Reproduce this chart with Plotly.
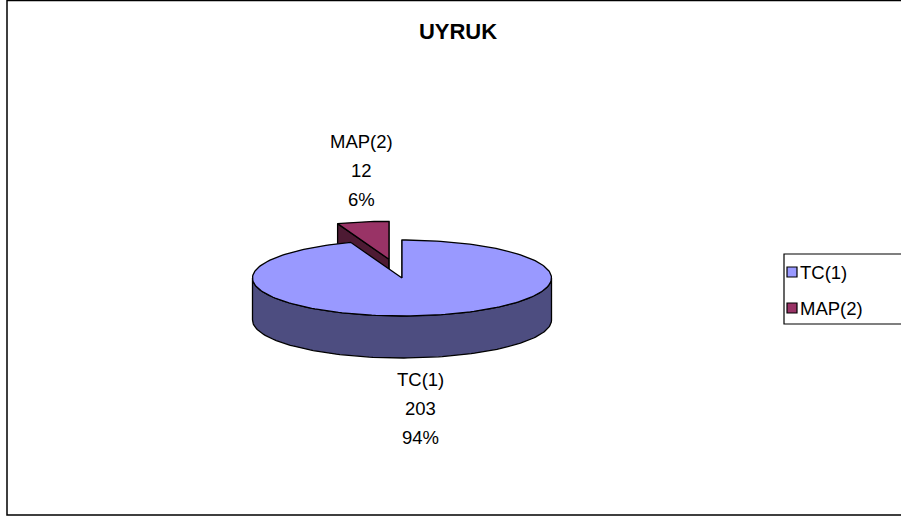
import numpy as np
import plotly.graph_objects as go

# ---- data ----
title_text = "UYRUK"
categories = ["TC(1)", "MAP(2)"]
values = [203, 12]
explode = [0.0, 0.5]
top_colors = ["#9999FF", "#993366"]
side_colors = ["#4D4D80", "#4D1A33"]

# ---- layout constants (pixel space) ----
W, H = 901, 518
CX, CY = 402.0, 278.0     # pie centre
RX, RY = 149.5, 38.0      # ellipse radii of the top face
DEPTH = 42.0              # thickness of the 3-D pie
LINE = dict(color="black", width=1.3)
FONT = "Liberation Sans, Arial, sans-serif"

total = float(sum(values))
shares = [v / total for v in values]


def pt(cx, cy, theta_deg, r=1.0):
    t = np.radians(theta_deg)
    return cx + r * RX * np.sin(t), cy - r * RY * np.cos(t)


def arc(cx, cy, a0, a1, dy=0.0, n=None):
    if n is None:
        n = max(4, int(abs(a1 - a0) / 1.5) + 2)
    th = np.linspace(a0, a1, n)
    xs, ys = pt(cx, cy, th)
    return list(xs), list(np.asarray(ys) + dy)


slices = []
start = 0.0
for i, s in enumerate(shares):
    end = start + 360.0 * s
    mid = (start + end) / 2.0
    ox, oy = pt(0.0, 0.0, mid, explode[i])
    slices.append(dict(i=i, a0=start, a1=end, cx=CX + ox, cy=CY + oy))
    start = end

cut_traces, side_traces, top_traces = [], [], []

for sl in slices:
    i, a0, a1, cx, cy = sl["i"], sl["a0"], sl["a1"], sl["cx"], sl["cy"]
    # radial cut faces (only those facing the viewer or edge-on)
    for a, vis in ((a0, np.sin(np.radians(a0)) <= 1e-9),
                   (a1, np.sin(np.radians(a1)) >= -1e-9)):
        if not vis:
            continue
        ex, ey = pt(cx, cy, a)
        xs = [cx, ex, ex, cx, cx]
        ys = [cy, ey, ey + DEPTH, cy + DEPTH, cy]
        cut_traces.append(go.Scatter(x=xs, y=ys, mode="lines", fill="toself",
                                     fillcolor=side_colors[i], line=LINE,
                                     hoverinfo="skip", showlegend=False))
    # outer wall, front part only (90..270 deg)
    lo, hi = max(a0, 90.0), min(a1, 270.0)
    if hi > lo:
        tx, ty = arc(cx, cy, lo, hi)
        bx, by = arc(cx, cy, hi, lo, dy=DEPTH)
        xs = tx + bx + [tx[0]]
        ys = ty + by + [ty[0]]
        side_traces.append(go.Scatter(x=xs, y=ys, mode="lines", fill="toself",
                                      fillcolor=side_colors[i], line=LINE,
                                      hoverinfo="skip", showlegend=False))
    # top face
    tx, ty = arc(cx, cy, a0, a1)
    xs = [cx] + tx + [cx]
    ys = [cy] + ty + [cy]
    top_traces.append(go.Scatter(x=xs, y=ys, mode="lines", fill="toself",
                                 fillcolor=top_colors[i], line=LINE,
                                 name=categories[i],
                                 hovertemplate=f"{categories[i]}: {values[i]}<extra></extra>",
                                 showlegend=False))

fig = go.Figure(cut_traces + side_traces + top_traces)

# ---- data labels ----
label_pos = [(420, 379), (361, 141)]   # (x, first line y) per slice
LINE_STEP = 29
annotations = []
for i, (lx, ly) in enumerate(label_pos):
    lines = [categories[i], f"{values[i]}", f"{round(shares[i] * 100):.0f}%"]
    for k, t in enumerate(lines):
        annotations.append(dict(x=lx, y=ly + k * LINE_STEP, xref="x", yref="y",
                                text=t, showarrow=False, xanchor="center",
                                yanchor="middle",
                                font=dict(family=FONT, size=18.5, color="black")))

# ---- legend (drawn manually, Excel style) ----
shapes = [
    # outer chart border
    dict(type="rect", xref="x", yref="y", x0=7, y0=0.5, x1=910, y1=515,
         line=dict(color="black", width=1.5), fillcolor="rgba(0,0,0,0)", layer="below"),
    # legend box
    dict(type="rect", xref="x", yref="y", x0=784, y0=254, x1=910, y1=324,
         line=dict(color="black", width=1.2), fillcolor="white", layer="below"),
]
leg_rows = [272, 308]
for i, cat in enumerate(categories):
    yc = leg_rows[i]
    shapes.append(dict(type="rect", xref="x", yref="y", x0=787, x1=797,
                       y0=yc - 5, y1=yc + 5, fillcolor=top_colors[i],
                       line=dict(color="black", width=1.2)))
    annotations.append(dict(x=798, y=yc, xref="x", yref="y", text=cat,
                            showarrow=False, xanchor="left", yanchor="middle",
                            font=dict(family=FONT, size=18.5, color="black")))

fig.update_layout(
    width=W, height=H,
    margin=dict(l=0, r=0, t=0, b=0),
    paper_bgcolor="white", plot_bgcolor="white",
    showlegend=False,
    title=dict(text=title_text, x=458 / W, xanchor="center",
               y=1 - 31 / H, yanchor="middle", xref="paper", yref="container",
               font=dict(family=FONT, size=22, color="black", weight="bold")),
    xaxis=dict(range=[0, W], visible=False, fixedrange=True),
    yaxis=dict(range=[H, 0], visible=False, fixedrange=True),
    shapes=shapes,
    annotations=annotations,
)

fig.write_html("out.html",
               config={"displayModeBar": False},
               post_script="document.body.style.margin='0';document.body.style.padding='0';")
